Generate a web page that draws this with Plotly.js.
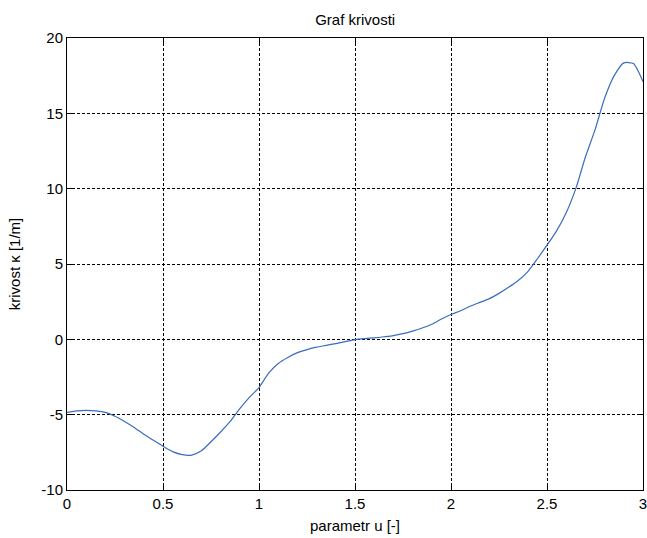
<!DOCTYPE html>
<html>
<head>
<meta charset="utf-8">
<script src="https://cdn.plot.ly/plotly-3.0.1.min.js"></script>
<style>html,body{margin:0;padding:0;background:#fff;}#chart{width:647px;height:538px;}</style>
</head>
<body>
<div id="chart"></div>
<script>
const u = [0, 0.05, 0.1, 0.15, 0.2, 0.25, 0.3, 0.35, 0.4, 0.45, 0.5, 0.55, 0.6, 0.65, 0.7, 0.75, 0.8, 0.85, 0.9, 0.95,
  1.0, 1.05, 1.1, 1.15, 1.2, 1.25, 1.3, 1.35, 1.4, 1.45, 1.5, 1.55, 1.6, 1.65, 1.7, 1.75, 1.8, 1.85, 1.9, 1.95,
  2.0, 2.05, 2.1, 2.15, 2.2, 2.25, 2.3, 2.35, 2.4, 2.45, 2.5, 2.55, 2.6, 2.65, 2.7, 2.75, 2.8, 2.85, 2.9, 2.95, 3.0];
const kappa = [-4.85, -4.75, -4.72, -4.75, -4.85, -5.1, -5.45, -5.85, -6.3, -6.7, -7.1, -7.45, -7.65, -7.68, -7.4, -6.8, -6.15, -5.45, -4.6, -3.85,
  -3.2, -2.25, -1.6, -1.2, -0.88, -0.68, -0.52, -0.4, -0.28, -0.15, -0.02, 0.05, 0.1, 0.17, 0.25, 0.38, 0.55, 0.75, 1.0, 1.35,
  1.65, 1.9, 2.2, 2.45, 2.7, 3.05, 3.45, 3.9, 4.5, 5.35, 6.25, 7.2, 8.4, 10.0, 12.1, 13.9, 16.0, 17.5, 18.35, 18.3, 17.1];
const xTicks = [0, 0.5, 1, 1.5, 2, 2.5, 3];
const xTickText = ['0', '0.5', '1', '1.5', '2', '2.5', '3'];
const yTicks = [-10, -5, 0, 5, 10, 15, 20];
const yTickText = ['-10', '-5', '0', '5', '10', '15', '20'];

const font = {family: 'Liberation Sans, Arial, sans-serif', size: 15, color: '#000'};
const axisCommon = {
  showline: true, linecolor: '#000', linewidth: 1, mirror: 'ticks',
  ticks: 'inside', ticklen: 5, tickcolor: '#000',
  showgrid: true, gridcolor: '#000', gridwidth: 1, griddash: '3px,2px',
  zeroline: false, tickfont: font, ticklabeloverflow: 'allow'
};
Plotly.newPlot('chart', [{
  x: u, y: kappa, type: 'scatter', mode: 'lines', line: {color: '#3a6cc0', width: 1.2, shape: 'spline', smoothing: 0.6}
}], {
  width: 647, height: 538,
  margin: {l: 67, r: 4, t: 38, b: 48},
  paper_bgcolor: '#fff', plot_bgcolor: '#fff',
  showlegend: false,
  font: font,
  title: {text: 'Graf krivosti', font: {family: font.family, size: 15, color: '#000'},
          x: 0.549, xanchor: 'center', y: 1 - 19.5 / 538, yanchor: 'middle', yref: 'container'},
  xaxis: Object.assign({}, axisCommon, {
    range: [0, 3], tickvals: xTicks, ticktext: xTickText,
    title: {text: 'parametr u [-]', font: font, standoff: 9}, automargin: false
  }),
  yaxis: Object.assign({}, axisCommon, {
    range: [-10, 20], tickvals: yTicks, ticktext: yTickText,
    title: {text: 'krivost κ [1/m]', font: font, standoff: 17}, automargin: false
  })
}, {displayModeBar: false, staticPlot: true});
</script>
</body>
</html>
